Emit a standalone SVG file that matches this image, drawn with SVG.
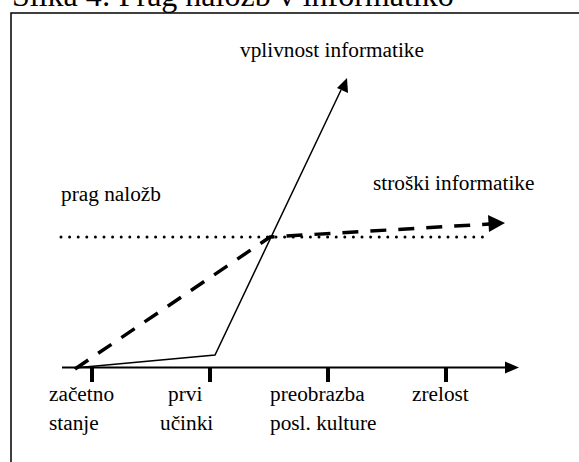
<svg xmlns="http://www.w3.org/2000/svg" width="579" height="462" viewBox="0 0 579 462">
<defs>
<style>
.lbl{font-size:21.3px;}
.title{font-size:32px;}
.axis{stroke:#000;stroke-width:2;fill:none;}
.tick{stroke:#000;stroke-width:4;}
.solid{stroke:#000;stroke-width:1.5;fill:none;}
.dash{stroke:#000;stroke-width:3.5;fill:none;stroke-dasharray:16 12;}
.dot{stroke:#000;stroke-width:3;fill:none;stroke-linecap:round;stroke-dasharray:0 8.6;}
.head{fill:#000;}
</style>
</defs>
<rect width="579" height="462" fill="#fff"/>
<g font-family="Liberation Serif, Times New Roman, Times, DejaVu Serif, serif" fill="#000">
<text class="title" x="12" y="6">Slika 4: Prag naložb v informatiko</text>
</g>
<rect x="11" y="13" width="620" height="520" fill="none" stroke="#000" stroke-width="1.5"/>

<g id="connectors">
<line class="axis" x1="62" y1="367.5" x2="508" y2="367.5"/>
<polygon class="head" points="519,367.5 505,361.5 505,373.5"/>
<g id="ticks">
<line class="tick" x1="92" y1="367" x2="92" y2="382"/>
<line class="tick" x1="210" y1="367" x2="210" y2="382"/>
<line class="tick" x1="328" y1="367" x2="328" y2="382"/>
<line class="tick" x1="446" y1="367" x2="446" y2="382"/>
</g>
<line class="dot" x1="61" y1="237" x2="486" y2="237"/>
<polyline class="solid" points="74,368 215,355 341,90"/>
<polygon class="head" points="347,78 337,88 348,93"/>
<polyline class="dash" points="75,369 270,237 490,224"/>
<polygon class="head" points="505,223 488,215 489,232"/>
</g>

<g font-family="Liberation Serif, Times New Roman, Times, DejaVu Serif, serif" fill="#000">
<g id="label-vplivnost"><text class="lbl" x="240" y="57">vplivnost informatike</text></g>
<g id="label-stroski"><text class="lbl" x="373" y="190">stroški informatike</text></g>
<g id="label-prag"><text class="lbl" x="61" y="201">prag naložb</text></g>
<g id="label-zacetno"><text class="lbl" x="49" y="401">začetno</text><text class="lbl" x="49" y="430">stanje</text></g>
<g id="label-prvi"><text class="lbl" x="168" y="401">prvi</text><text class="lbl" x="160" y="430">učinki</text></g>
<g id="label-preobrazba"><text class="lbl" x="270" y="401">preobrazba</text><text class="lbl" x="270" y="430">posl. kulture</text></g>
<g id="label-zrelost"><text class="lbl" x="412" y="401">zrelost</text></g>
</g>
</svg>
